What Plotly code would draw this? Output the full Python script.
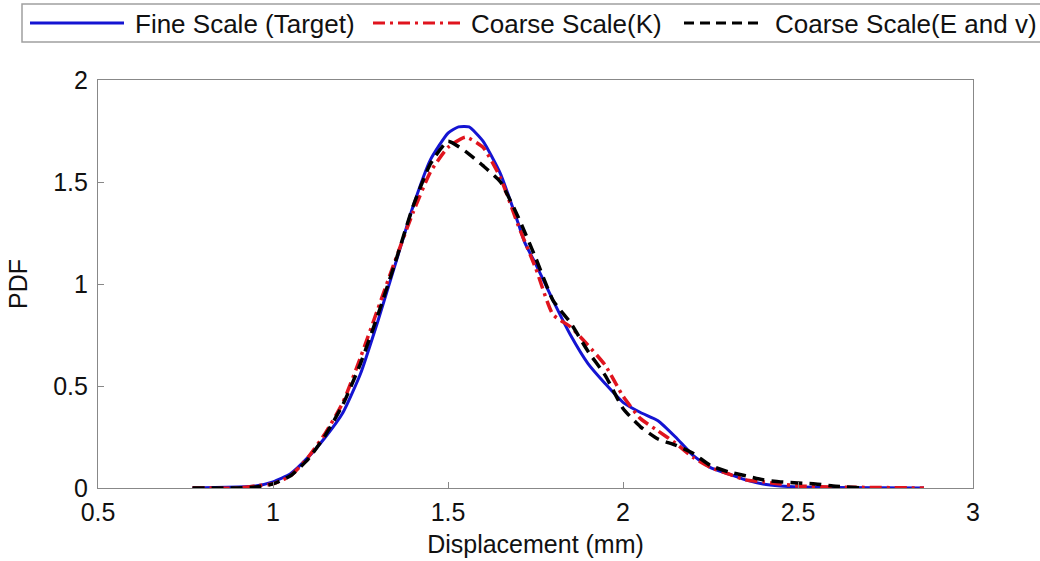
import plotly.graph_objects as go

# ---- data ----
fine_x = [0.77, 0.90, 0.95, 1.00, 1.05, 1.10, 1.15, 1.20, 1.25, 1.30, 1.35, 1.40, 1.45, 1.50, 1.53, 1.56,
          1.60, 1.65, 1.70, 1.72, 1.75, 1.80, 1.85, 1.90, 1.95, 2.00, 2.05, 2.10, 2.15, 2.20, 2.25,
          2.30, 2.35, 2.40, 2.45, 2.50, 2.60, 2.86]
fine_y = [0.0, 0.005, 0.01, 0.03, 0.07, 0.15, 0.25, 0.37, 0.56, 0.82, 1.10, 1.38, 1.61, 1.74, 1.77, 1.77,
          1.70, 1.54, 1.30, 1.20, 1.10, 0.92, 0.75, 0.61, 0.51, 0.42, 0.37, 0.33, 0.25, 0.16, 0.10,
          0.07, 0.04, 0.02, 0.01, 0.005, 0.002, 0.0]

coarse_k_x = [0.77, 0.90, 0.95, 1.00, 1.05, 1.10, 1.15, 1.20, 1.25, 1.30, 1.35, 1.40, 1.45, 1.50, 1.55,
              1.60, 1.65, 1.70, 1.75, 1.80, 1.85, 1.90, 1.95, 2.00, 2.05, 2.10, 2.15, 2.20, 2.25,
              2.30, 2.35, 2.40, 2.45, 2.50, 2.60, 2.86]
coarse_k_y = [0.0, 0.0, 0.01, 0.02, 0.06, 0.15, 0.27, 0.42, 0.64, 0.88, 1.12, 1.35, 1.55, 1.67, 1.72,
              1.67, 1.52, 1.29, 1.08, 0.85, 0.79, 0.70, 0.60, 0.45, 0.34, 0.28, 0.22, 0.15, 0.10,
              0.07, 0.04, 0.03, 0.02, 0.01, 0.005, 0.0]

coarse_ev_x = [0.77, 0.90, 0.95, 1.00, 1.05, 1.10, 1.15, 1.20, 1.25, 1.30, 1.35, 1.40, 1.45, 1.50, 1.55,
               1.60, 1.65, 1.70, 1.75, 1.80, 1.85, 1.90, 1.95, 2.00, 2.05, 2.10, 2.15, 2.20, 2.25,
               2.30, 2.35, 2.40, 2.45, 2.50, 2.55, 2.60, 2.68]
coarse_ev_y = [0.0, 0.0, 0.005, 0.02, 0.06, 0.14, 0.26, 0.41, 0.61, 0.85, 1.11, 1.38, 1.59, 1.70, 1.65,
               1.58, 1.50, 1.33, 1.13, 0.92, 0.81, 0.67, 0.55, 0.39, 0.30, 0.24, 0.21, 0.17, 0.11,
               0.08, 0.06, 0.04, 0.03, 0.025, 0.02, 0.01, 0.0]

series_names = ["Fine Scale (Target)", "Coarse Scale(K)", "Coarse Scale(E and v)"]
x_ticks = [0.5, 1, 1.5, 2, 2.5, 3]
y_ticks = [0, 0.5, 1, 1.5, 2]

BLUE = "#1414d2"
RED = "#e0141e"
BLACK = "#000000"

fig = go.Figure()
fig.add_trace(go.Scatter(x=fine_x, y=fine_y, mode="lines", name=series_names[0],
                         line=dict(color=BLUE, width=3, shape="spline", smoothing=0.5), showlegend=False))
fig.add_trace(go.Scatter(x=coarse_k_x, y=coarse_k_y, mode="lines", name=series_names[1],
                         line=dict(color=RED, width=3.5, dash="12px,5px,3px,5px", shape="spline", smoothing=0.5),
                         showlegend=False))
fig.add_trace(go.Scatter(x=coarse_ev_x, y=coarse_ev_y, mode="lines", name=series_names[2],
                         line=dict(color=BLACK, width=3.5, dash="12px,7px", shape="spline", smoothing=0.5),
                         showlegend=False))

# plot area in pixels
L, R, T, B = 98, 973, 80, 488
W, H = 1040, 561

def px(x):
    return (x - L) / (R - L)

def py(y):
    return (B - y) / (B - T)

FONT = "Arial, Liberation Sans, sans-serif"

shapes = [dict(type="rect", xref="paper", yref="paper", x0=px(22), x1=px(1060), y0=py(4), y1=py(42),
               line=dict(color="#a0a0a0", width=1.5), fillcolor="white", layer="above")]
annotations = []
leg_items = [
    (30, 124, 133, BLUE, "solid", series_names[0]),
    (373, 460, 469, RED, "12px,5px,3px,5px", series_names[1]),
    (684, 764, 773, BLACK, "10px,6px", series_names[2]),
]
for x0, x1, tx, col, dash, name in leg_items:
    shapes.append(dict(type="line", xref="paper", yref="paper", x0=px(x0), x1=px(x1), y0=py(23), y1=py(23),
                       line=dict(color=col, width=3, dash=dash), layer="above"))
    annotations.append(dict(xref="paper", yref="paper", x=px(tx), y=py(24), text=name, showarrow=False,
                            xanchor="left", yanchor="middle", font=dict(family=FONT, size=26, color="#111")))

axis_common = dict(showline=True, linecolor="#888888", linewidth=1.2, mirror=True, showgrid=False,
                   zeroline=False, ticks="inside", ticklen=6, tickcolor="#888888", automargin=False,
                   tickfont=dict(family=FONT, size=25, color="#111"))

fig.update_layout(
    width=W, height=H,
    margin=dict(l=L, r=W - R, t=T, b=H - B),
    paper_bgcolor="white", plot_bgcolor="white",
    shapes=shapes, annotations=annotations,
    xaxis=dict(range=[0.5, 3], tickvals=x_ticks, ticktext=[f"{v:g}" for v in x_ticks],
               ticklabelstandoff=2,
               title=dict(text="Displacement (mm)", font=dict(family=FONT, size=25, color="#111"), standoff=10),
               **axis_common),
    yaxis=dict(range=[0, 2], tickvals=y_ticks, ticktext=[f"{v:g}" for v in y_ticks],
               ticklabelstandoff=4,
               title=dict(text="PDF", font=dict(family=FONT, size=25, color="#111"), standoff=18),
               **axis_common),
)

fig.write_html("out.html", config={"displayModeBar": False},
               post_script="document.body.style.margin='0px';")
